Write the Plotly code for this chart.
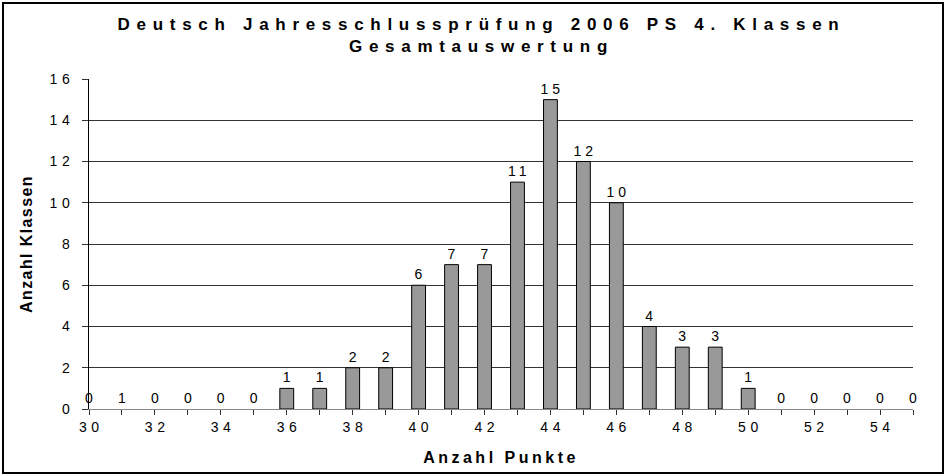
import plotly.graph_objects as go

points = list(range(30, 56))
counts = [0, 0, 0, 0, 0, 0, 1, 1, 2, 2, 6, 7, 7, 11, 15, 12, 10, 4, 3, 3, 1, 0, 0, 0, 0, 0]
labels = ["0", "1", "0", "0", "0", "0", "1", "1", "2", "2", "6", "7", "7", "11", "15", "12", "10", "4", "3", "3", "1", "0", "0", "0", "0", "0"]
x_ticks = list(range(30, 56, 2))
y_ticks = list(range(0, 17, 2))

FONT = "Arial, Liberation Sans, sans-serif"

fig = go.Figure()
fig.add_trace(go.Bar(
    x=points, y=counts, text=labels, textposition="outside",
    textfont=dict(family=FONT, size=14, color="black"),
    constraintext="none",
    cliponaxis=False,
    width=0.42,
    marker=dict(color="#999999",
                line=dict(color="black", width=[1 if c > 0 else 0 for c in counts])),
    hoverinfo="x+y",
))

fig.update_layout(
    width=946, height=476,
    margin=dict(l=89, r=33, t=79, b=67),
    paper_bgcolor="white", plot_bgcolor="white",
    showlegend=False,
    title=dict(
        text="<b>Deutsch Jahresschlussprüfung 2006 PS 4. Klassen<br>Gesamtauswertung</b>",
        x=0.509, xanchor="center", y=0.938, yanchor="top",
        font=dict(family=FONT, size=17, color="black"),
    ),
    xaxis=dict(
        range=[30, 55], tickmode="array", tickvals=x_ticks,
        ticktext=[str(v) for v in x_ticks],
        ticks="outside", ticklen=5, tickcolor="#333",
        minor=dict(ticks="outside", ticklen=5, dtick=1, tickcolor="#333"),
        showline=True, linecolor="#888", linewidth=1,
        showgrid=False, zeroline=False,
        tickfont=dict(family=FONT, size=14, color="black"),
        title=dict(text="<b>Anzahl Punkte</b>", font=dict(family=FONT, size=16, color="black"), standoff=18),
    ),
    yaxis=dict(
        range=[0, 16], tickmode="array", tickvals=y_ticks,
        ticks="outside", ticklen=6, tickcolor="#333",
        ticklabelstandoff=5,
        showline=True, linecolor="black", linewidth=1,
        showgrid=True, gridcolor="#333", gridwidth=1, zeroline=False,
        tickfont=dict(family=FONT, size=14, color="black"),
        title=dict(text="<b>Anzahl Klassen</b>", font=dict(family=FONT, size=16, color="black"), standoff=22),
    ),
    shapes=[dict(type="rect", xref="paper", yref="paper",
                 x0=-86/824, x1=1+30/824, y0=-64/330, y1=1+76/330,
                 line=dict(color="black", width=2), fillcolor="rgba(0,0,0,0)")],
)

post = """
var s = document.createElement('style');
s.textContent = 'html,body{margin:0;padding:0} .gtitle{letter-spacing:6.7px} .xtitle{letter-spacing:3.5px} .ytitle{letter-spacing:1.4px} .xtick text,.ytick text{letter-spacing:4.5px} .bartext{letter-spacing:4px}';
document.head.appendChild(s);
document.querySelectorAll('.xtick text').forEach(function(t){t.setAttribute('dx','2.2');});
document.querySelectorAll('.bartext').forEach(function(t){t.setAttribute('dx','2');});
"""
fig.write_html("out.html", post_script=post, config={"displayModeBar": False})
